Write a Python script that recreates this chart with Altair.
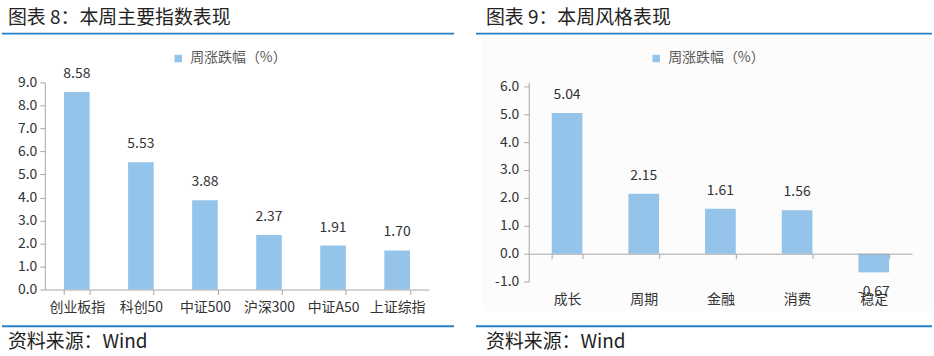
import altair as alt
import pandas as pd

# ---- data ----
idx_names = ["创业板指", "科创50", "中证500", "沪深300", "中证A50", "上证综指"]
idx_vals = [8.58, 5.53, 3.88, 2.37, 1.91, 1.70]
style_names = ["成长", "周期", "金融", "消费", "稳定"]
style_vals = [5.04, 2.15, 1.61, 1.56, -0.67]
series_name = "周涨跌幅（%）"
title_left = "图表 8：本周主要指数表现"
title_right = "图表 9：本周风格表现"
source_text = "资料来源：Wind"
yticks_left = [0, 1, 2, 3, 4, 5, 6, 7, 8, 9]
yticks_right = [-1, 0, 1, 2, 3, 4, 5, 6]

FONT = "Noto Sans CJK SC"
BAR = "#94c4ea"
BLUE = "#2580c8"
AXIS_C = "#a6a6a6"
TXT = "#333333"
MINUS_FIX = "replace(format(datum.value, '.1f'), '\u2212', '-')"


def one(value):
    return pd.DataFrame({"v": [value]})


def deco_rect(x, x2, y, y2, fill):
    return alt.Chart(one(0)).mark_rect(fill=fill).encode(
        x=alt.value(x), x2=alt.value(x2), y=alt.value(y), y2=alt.value(y2))


def deco_rule(x, x2, y):
    return alt.Chart(one(0)).mark_rule(color=BLUE, strokeWidth=2).encode(
        x=alt.value(x), x2=alt.value(x2), y=alt.value(y))


def deco_text(txt, x, y, size):
    return alt.Chart(one(txt)).mark_text(
        align="left", baseline="middle", font=FONT, fontSize=size, color="#222222"
    ).encode(text="v:N", x=alt.value(x), y=alt.value(y))


def panel(cats, vals, yticks, ydomain, W, H, xoffset, xlabpad, ylabpad,
          legx, bg, faint, title, tx, line_x, line_x2):
    df = pd.DataFrame({"cat": cats, "val": vals, "s": [series_name] * len(cats)})
    xenc = alt.X("cat:N", sort=cats,
                 scale=alt.Scale(paddingInner=0.6, paddingOuter=0.3),
                 axis=alt.Axis(title=None, labelAngle=0, labelFont=FONT, labelFontSize=14,
                               labelColor=TXT, domainColor=AXIS_C, tickColor=AXIS_C,
                               tickSize=5, tickBand="extent", labelPadding=xlabpad,
                               offset=xoffset, zindex=2))
    yenc = alt.Y("val:Q", scale=alt.Scale(domain=ydomain, nice=False, zero=False),
                 axis=alt.Axis(title=None, values=yticks, grid=False,
                               labelExpr=MINUS_FIX,
                               labelFont=FONT, labelFontSize=14, labelColor=TXT,
                               domainColor=AXIS_C, tickColor=AXIS_C, tickSize=5,
                               labelPadding=ylabpad, zindex=2))
    base = alt.Chart(df).transform_calculate(
        lab="replace(format(datum.val, '.2f'), '\u2212', '-')")
    bars = base.mark_bar().encode(
        x=xenc, y=yenc,
        color=alt.Color("s:N", scale=alt.Scale(range=[BAR]),
                        legend=alt.Legend(title=None, orient="none", legendX=legx,
                                          legendY=-31, symbolType="square",
                                          symbolSize=56, symbolStrokeWidth=0,
                                          labelFont=FONT, labelFontSize=14,
                                          labelColor="#595959", padding=0,
                                          labelOffset=5, zindex=2)))
    pos = base.transform_filter("datum.val >= 0").mark_text(
        baseline="middle", dy=-18, font=FONT, fontSize=14, color=TXT
    ).encode(x=xenc, y=yenc, text="lab:N")
    neg = base.transform_filter("datum.val < 0").mark_text(
        baseline="middle", dy=20, font=FONT, fontSize=14, color=TXT
    ).encode(x=xenc, y=yenc, text="lab:N")
    layers = [deco_rect(bg[0], bg[1], -81, 275, "white")]
    if faint:
        layers.append(deco_rect(faint[0], faint[1], -45, 229, "#fcfcfc"))
    layers += [bars, pos, neg,
               deco_text(title, tx, -65, 19),
               deco_rule(line_x, line_x2, -49),
               deco_rule(line_x, line_x2, 245),
               deco_text(source_text, tx, 261, 19)]
    return alt.layer(*layers).properties(width=W, height=H)


left = panel(idx_names, idx_vals, yticks_left, [0, 9], 386, 208, 0, 6, 3,
             127, (-43, 427), None, title_left, -37, -43, 411)
right = panel(style_names, style_vals, yticks_right, [-1, 6.14], 385, 200, -28, 34, 5,
              121, (-59, 405), (-47, 405), title_right, -43, -53, 405)

chart = alt.hconcat(left, right, spacing=100, bounds="flush", padding=0).resolve_scale(
    color="independent").resolve_legend(color="independent").configure_view(
    stroke=None).configure(background="white")

chart.save("out.html", embed_options={"renderer": "svg", "actions": False})
